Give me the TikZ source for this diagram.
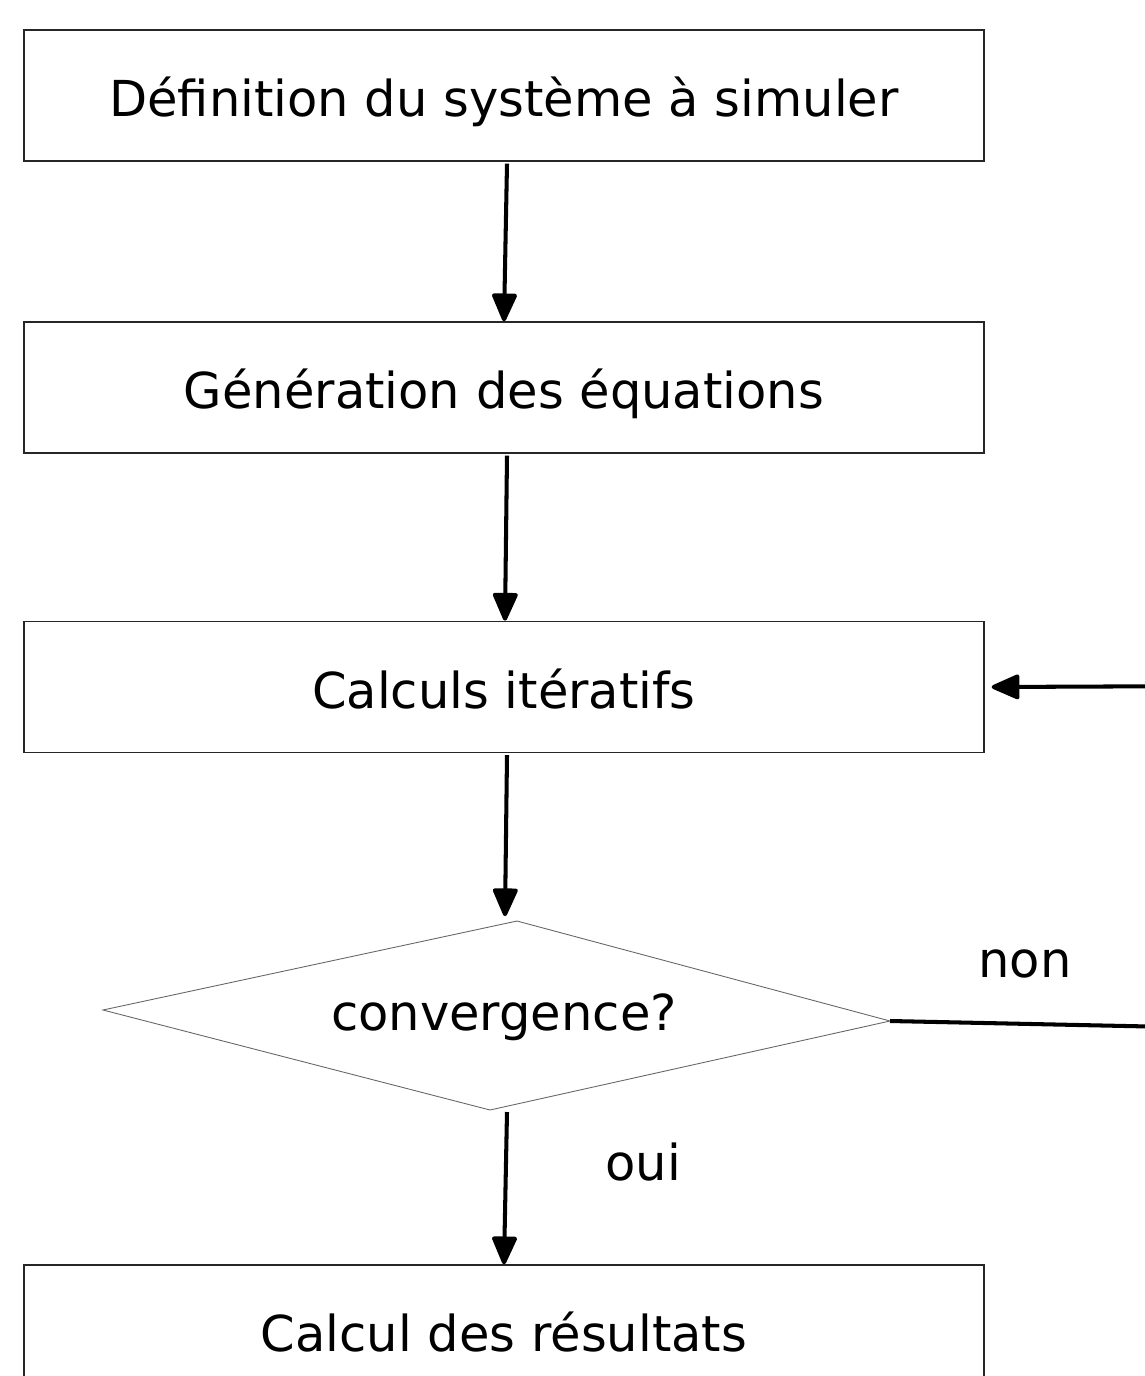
\documentclass[tikz,border=0pt]{standalone}
\usepackage{fontspec}
\setmainfont{DejaVu Sans}
\usetikzlibrary{arrows.meta}

\tikzset{
    etape/.style={draw=black!85, line width=0.8pt, minimum width=19.2cm, minimum height=2.62cm,
        inner sep=0pt, text height=1.0cm, text depth=0.16cm, font=\fontsize{28.2}{34}\selectfont},
    fleche/.style={line width=2.3pt, -{Triangle[length=0.62cm,width=0.52cm,round]}},
    etiquette/.style={font=\fontsize{28.2}{34}\selectfont}
}

\begin{document}
\begin{tikzpicture}[x=0.02cm,y=-0.02cm]
                \useasboundingbox (0,0) rectangle (1145,1376);
                \clip (0,0) rectangle (1145,1376);
                \node [etape] (def) at (504,95.5) {Définition du système à simuler};
                \node [etape] (gen) at (504,387.5) {Génération des équations};
                \node [etape] (calc) at (504,687) {Calculs itératifs};
                \node [etape] (res) at (504,1330.5) {Calcul des résultats};
                % losange du test
                \coordinate (dleft) at (103,1010);
                \coordinate (dtop) at (517,921);
                \coordinate (dright) at (890,1021);
                \coordinate (dbottom) at (490,1110);
                \draw [black!60, line width=0.5pt] (dleft) -- (dtop) -- (dright) -- (dbottom) -- cycle;
                \node [etiquette] (conv) at (504,1017) {convergence?};
                % fleches
                \draw [fleche] (def.south) ++(3,2) -- (gen.north);
                \draw [fleche] (gen.south) ++(3,2) -- ++(-2,165);
                \draw [fleche] (calc.south) ++(3,2) -- ++(-2,161);
                \draw [fleche] (dbottom) ++(17,2) -- (res.north);
                \coordinate (fb1) at (1220,1028);
                \coordinate (fb2) at (1220,686);
                \draw [fleche] (dright) -- (fb1) -- (fb2) -- ([xshift=4]calc.east);
                \node [etiquette] (non) at (1025,964) {non};
                \node [etiquette] (oui) at (643,1162) {oui};
            \end{tikzpicture}
\end{document}
